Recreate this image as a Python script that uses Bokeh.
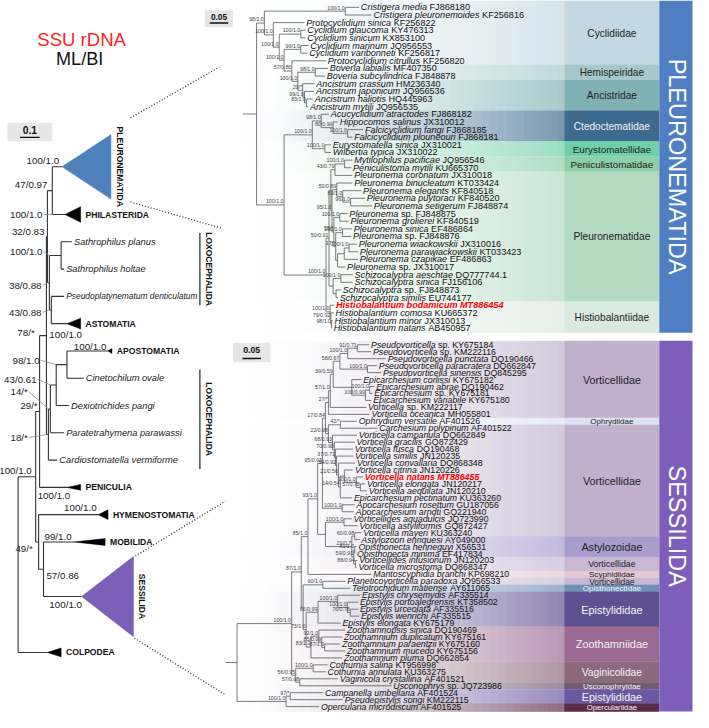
import math
from bokeh.plotting import figure
from bokeh.models import Range1d, ColumnDataSource
from bokeh.embed import file_html
from bokeh.resources import INLINE
from bokeh.core.properties import value

# ---------------------------------------------------------------- data
TITLE_LINES = ["SSU rDNA", "ML/BI"]

MAIN_TAXA = ["PLEURONEMATIDA", "PHILASTERIDA", "Sathrophilus planus", "Sathrophilus holtae",
             "Pseudoplatynematum denticulatum", "ASTOMATIA", "APOSTOMATIA", "Cinetochilum ovale",
             "Dexiotrichides pangi", "Paratetrahymena parawassi", "Cardiostomatella vermiforme",
             "PENICULIA", "HYMENOSTOMATIA", "MOBILIDA", "SESSILIDA", "COLPODEA"]
MAIN_TIP_SUPPORT = ["100/1.0", "100/1.0", "", "", "", "100/1.0", "100/1.0", "", "", "", "",
                    "100/1.0", "100/1.0", "99/1.0", "100/1.0", ""]
MAIN_NEWICK = ("((((((0:0.05,1:0.065)47/0.97:0.025,((2:0.055,3:0.015)100/1.0:0.06,"
               "(4:0.065,5:0.08)43/0.88:0.01)38/0.88:0.01)32/0.83:0.005,"
               "((((6:0.21,7:0.085)98/1.0:0.055,8:0.065)43/0.61:0.03,9:0.07)14/*:0.01,"
               "10:0.045)18/*:0.01)78/*:0.035,11:0.14)29/*:0.02,"
               "(12:0.305,(13:0.155,14:0.195)57/0.86:0.025)49/*:0.015)100/1.0:0.09,15:0.15)")
# collapsed clades: depth (subst./site)
MAIN_CLADE_DEPTH = {"PLEURONEMATIDA": 0.25, "PHILASTERIDA": 0.08, "ASTOMATIA": 0.07, "APOSTOMATIA": 0.02,
                    "PENICULIA": 0.07, "HYMENOSTOMATIA": 0.05, "MOBILIDA": 0.16, "SESSILIDA": 0.265,
                    "COLPODEA": 0.07}
LOXO_LABEL = "LOXOCEPHALIDA"
LOXO_GROUPS = [(2, 4), (7, 10)]

UPPER_ORDER = "PLEURONEMATIDA"
UPPER_TAXA = ["Cristigera media FJ868180", "Cristigera pleuronemoides KF256816",
              "Protocyclidium sinica KF256822", "Cyclidium glaucoma KY476313", "Cyclidium sinicum KX853100",
              "Cyclidium marinum JQ956553", "Cyclidium varibonneti KF256817", "Protocyclidium citrullus KF256820",
              "Boveria labialis MF407350", "Boveria subcylindrica FJ848878", "Ancistrum crassum HM236340",
              "Ancistrum japonicum JQ956536", "Ancistrum haliotis HQ445963", "Ancistrum mytili JQ956535",
              "Acucyclidium atractodes FJ868182", "Hippocomos salinus JX310012", "Falcicyclidium fangi FJ868185",
              "Falcicyclidium plouneouri FJ868181", "Eurystomatella sinica JX310021", "Wilbertia typica JX310022",
              "Mytilophilus pacificae JQ956546", "Peniculistoma mytili KU665370", "Pleuronema coronatum JX310018",
              "Pleuronema binucleatum KT033424", "Pleuronema elegants KF840518", "Pleuronema puytoraci KF840520",
              "Pleuronema setigerum FJ848874", "Pleuronema sp. FJ848875", "Pleuronema grolierei KF840519",
              "Pleuronema sinica EF486864", "Pleuronema sp. FJ848876", "Pleuronema wiackowskii JX310016",
              "Pleuronema parawiackowskii KT033423", "Pleuronema czapikae EF486863", "Pleuronema sp. JX310017",
              "Schizocalyptra aeschtae DQ777744.1", "Schizocalyptra sinica FJ156106", "Schizocalyptra sp. FJ848873",
              "Schizocalyptra similis EU744177", "Histiobalantium bodamicum MT886454",
              "Histiobalantium comosa KU665372", "Histiobalantium minor JX310013", "Histiobalantium natans AB450957"]
UPPER_HIGHLIGHT = ["Histiobalantium bodamicum MT886454"]
U_CLADE_A = ("((0:0.037,1:0.071)100/1.0:0.218,(2:0.084,((3:0.013,4:0.013)100/1.0:0.058,"
             "((5:0.021,6:0.018)99/1.0:0.045,(7:0.092,((8:0.034,9:0.026)98/1.0:0.047,"
             "(10:0.032,(11:0.026,(12:0.018,13:0.005)83/1.0:0.005)99/1.0:0.005)20/*:0.013)100/1.0:0.016)"
             "57/0.86:0.021)100/1.0:0.013)100/1.0:0.016)100/1.0:0.024)98/1.0")
U_CLADE_C = ("((14:0.021,(15:0.013,(16:0.042,17:0.013)100/1.0:0.039)80/0.99:0.032)98/1.0:0.024,"
             "(18:0.016,19:0.016)100/1.0:0.034)100/1.0")
U_CLADE_P = ("(((20:0.021,21:0.018)100/1.0:0.026,22:0.047)43/0.79:0.011,"
             "((23:0.042,(24:0.05,(25:0.039,26:0.058)96/1.0:0.021)89/1.0:0.016)50/0.89:0.013,"
             "((27:0.021,28:0.024)100/1.0:0.016,((29:0.026,30:0.024)100/1.0:0.018,"
             "(((31:0.021,32:0.024)100/1.0:0.013,33:0.037):0.018,34:0.021):0.005)17/*:0.005)55/*:0.005)"
             "95/1.0:0.003)")
U_CLADE_S = "((35:0.032,36:0.032)100/1.0:0.021,(37:0.013,38:0.005):0.008)"
U_CLADE_H = "(39:0.011,(40:0.008,(41:0.003,42:0.001)98/1.0:0.002)79/0.92:0.002)100/1.0"
UPPER_NEWICK = ("(" + U_CLADE_A + ":0.021,(" + U_CLADE_C + ":0.076,((" + U_CLADE_P + ":0.005,"
                + U_CLADE_S + ":0.011)50/0.91:0.008," + U_CLADE_H + ":0.011)100/1.0:0.113)100/1.0:0.074)")
UPPER_FAMILIES = ["Cyclidiidae", "Hemispeiridae", "Ancistridae", "Ctedoctematidae", "Eurystomatellidae",
                  "Peniculistomatidae", "Pleuronematidae", "Histiobalantiidae"]
UPPER_FAMILY_FIRST = [0, 8, 10, 14, 18, 20, 22, 39]

LOWER_ORDER = "SESSILIDA"
LOWER_TAXA = ["Pseudovorticella sp. KY675184", "Pseudovorticella sp. KM222116", "Pseudovorticella punctata DQ190466",
              "Pseudovorticella paracratera DQ662847", "Pseudovorticella sinensis DQ845295",
              "Epicarchesium corlissi KY675182", "Epicarchesium abrae DQ190462", "Epicarchesium sp. KY675181",
              "Epicarchesium variabile KY675180", "Vorticella sp. KM222117", "Vorticella oceanica MH055801",
              "Ophrydium versatile AF401526", "Carchesium polypinum AF401522", "Vorticella campanula DQ662849",
              "Vorticella gracilis GQ872429", "Vorticella fusca DQ190468", "Vorticella similis JN120235",
              "Vorticella convallaria DQ868348", "Vorticella citrina JN120226", "Vorticella natans MT886455",
              "Vorticella elongata JN120217", "Vorticella aequilata JN120210", "Epicarchesium pectinatum KU363260",
              "Apocarchesium rosettum GU187056", "Apocarchesium arndti GQ221940",
              "Vorticellides aquadulcis JQ723990", "Vorticella astyliformis GQ872427", "Vorticella mayeri KU363240",
              "Astylozoon enriquesi AY049000", "Opisthonecta henneguyi X56531", "Opisthonecta minima EF417834",
              "Vorticellides infusionum JN120203", "Vorticella microstoma DQ868347",
              "Mantoscyphidia branchi KP698210", "Planeticovorticella paradoxa JQ956533",
              "Telotrochidium matiense AY611065", "Epistylis chrysemydis AF335514",
              "Epistylis portoalegrensis KT358502", "Epistylis urceolata AF335516", "Epistylis wenrichi AF335515",
              "Epistylis elongata KY675179", "Zoothamnopsis sinica DQ190469", "Zoothamnium duplicatum KY675161",
              "Zoothamnium paraentzii KY675160", "Zoothamnium mucedo KY675156", "Zoothamnium pluma DQ662854",
              "Cothurnia salina KT956998", "Cothurnia annulata KU363275", "Vaginicola crystallina AF401521",
              "Usconophrys sp. JQ723986", "Campanella umbellaria AF401524", "Pseudepistylis songi KM222115",
              "Opercularia microdiscum AF401525"]
LOWER_HIGHLIGHT = ["Vorticella natans MT886455"]
L_PSEUDO = ("(((0:0.032,1:0.037)91/0.71:0.026,2:0.103)100/1.0:0.021,"
            "(3:0.026,4:0.037)100/1.0:0.074)58/0.67")
L_EPIC = "(5:0.026,((6:0.013,7:0.008)100/1.0:0.011,8:0.016)100/0.99:0.037)"
L_VVTAIL = "((18:0.024,(19:0.018,(20:0.013,21:0.018)57/0.78:0.011)100/1.0:0.032):0.011,22:0.032)14/0.54"
L_VV = ("(13:0.066,(14:0.055,(15:0.047,(16:0.045,(17:0.045," + L_VVTAIL
        + ":0.005)21/0.56:0.005)54/0.92:0.003)37/0.71:0.003)70/0.98:0.005)68/0.93")
L_VB = ("((25:0.021,26:0.037)100/1.0:0.05,((27:0.018,28:0.013)60/0.98:0.008,((29:0.005,30:0.001)81/1.0:0.003,"
        "(31:0.005,32:0.003)88/0.94:0.005)59/0.91:0.005)29/0.7:0.071)")
L_EPI = "((36:0.061,(37:0.029,(38:0.021,39:0.024)76/0.78:0.008)100/1.0:0.026)100/1.0:0.053,40:0.061)86/0.99"
L_ZOO = "((41:0.071,(42:0.055,(43:0.042,44:0.055)87/1.0:0.008)85/0.99:0.008)92/1.0:0.021,45:0.084)83/1.0"
L_COTH = "((46:0.039,47:0.034)100/1.0:0.047,(48:0.103,49:0.247)57/0.98:0.011)56/0.95"
L_OPER = "((50:0.089,51:0.142)97/*:0.011,52:0.089)100/1.0"
L_VA1 = ("((((" + L_PSEUDO + ":0.018," + L_EPIC + ":0.05)39/0.59:0.008,9:0.097)57/1.0:0.005,10:0.111)27/*:0.008,"
         "((11:0.045,12:0.1)42/*:0.032," + L_VV + ":0.011)22/0.98:0.008)17/0.84")
L_VORT = ("(((" + L_VA1 + ":0.008,(23:0.034,24:0.032)100/1.0:0.053)95/0.93:0.013," + L_VB
          + ":0.021)93/1.0:0.026,33:0.171)85/1.0")
L_EZ = "((34:0.061,35:0.074)90/1.0:0.053,(" + L_EPI + ":0.032," + L_ZOO + ":0.013)73/1.0:0.008)"
LOWER_NEWICK = ("(((" + L_VORT + ":0.018," + L_EZ + ":0.005)87/1.0:0.026," + L_COTH
                + ":0.011)100/1.0:0.147," + L_OPER + ":0.132)")
LOWER_FAMILIES = ["Vorticellidae", "Ophrydiidae", "Vorticellidae", "Astylozoidae", "Vorticellidae",
                  "Scyphidiidae", "Vorticellidae", "Opisthonectidae", "Epistylididae", "Zoothamniidae",
                  "Vaginicolidae", "Usconophryidae", "Epistylididae", "Operculariidae"]
LOWER_FAMILY_FIRST = [0, 11, 12, 28, 31, 33, 34, 35, 36, 41, 46, 49, 50, 52]

SCALE_MAIN = 0.1
SCALE_SUB = 0.05

# ---------------------------------------------------------------- styles
S = 693.0 / 709.0
FONT = "Liberation Sans"
BLUE = "#4f81bd"
PURPLE = "#7b5fb8"
UPPER_FAMILY_COLORS = ["#c4d8e2", "#a6c8cc", "#80b2b4", "#3d6a8e", "#6fcfa9", "#8bd0aa", "#b4dbc1", "#dbeadf"]
UPPER_LABEL_SIZES = [10.4, 10.3, 10.4, 10.3, 10.1, 10.1, 10.4, 10.4]
LOWER_FAMILY_COLORS = ["#c0b2cd", "#dde2f3", "#c0b2cd", "#a89dcd", "#c9b8d4", "#e4c9d2", "#c9b8d4",
                       "#6f8fb8", "#5e5191", "#9a6a92", "#8b6a7c", "#6e5b70", "#6a58a2", "#5b2b4b"]
LOWER_LABEL_SIZES = [11, 8.2, 11, 11, 9, 8.3, 8.6, 8.3, 11.2, 11.2, 10.5, 8.2, 11, 7.9]

W = {' ': 278, '.': 278, '/': 278, '*': 389, '-': 333}
for ch in "0123456789":
    W[ch] = 556
W.update(dict(zip("ABCDEFGHIJKLMNOPQRSTUVWXYZ",
                  [667, 667, 722, 722, 667, 611, 778, 722, 278, 500, 667, 556, 833, 722, 778, 667, 778, 722,
                   667, 611, 722, 667, 944, 667, 667, 611])))
W.update(dict(zip("abcdefghijklmnopqrstuvwxyz",
                  [556, 556, 500, 556, 556, 278, 556, 556, 222, 222, 500, 222, 833, 556, 556, 556, 556, 333,
                   500, 278, 556, 500, 722, 500, 500, 500])))


def tw(s, size):
    return sum(W.get(c, 556) for c in s) / 1000.0 * size


p = figure(width=693, height=712, x_range=Range1d(0, 709), y_range=Range1d(728, 0),
           output_backend="svg", toolbar_location=None, min_border=0,
           x_axis_location=None, y_axis_location=None)
p.grid.visible = False
p.outline_line_color = None
p.background_fill_color = "white"
p.border_fill_color = "white"


def add_text(xs, ys, texts, size, color="#111111", style="normal", align="left",
             baseline="middle", angle=0.0):
    if not texts:
        return
    src = ColumnDataSource(dict(x=list(xs), y=list(ys), text=list(texts)))
    p.text(x="x", y="y", text="text", source=src, text_font=value(FONT),
           text_font_size=value(f"{size * S:.2f}px"), text_font_style=style,
           text_color=color, text_align=align, text_baseline=baseline, angle=angle)


def hex2rgb(h):
    h = h.lstrip("#")
    return tuple(int(h[i:i + 2], 16) for i in (0, 2, 4))


def mix(c, w, t):
    a = hex2rgb(c)
    b = hex2rgb(w)
    return "#%02x%02x%02x" % tuple(int(round(a[i] * (1 - t) + b[i] * t)) for i in range(3))


# ---------------------------------------------------------------- newick
def parse_newick(s):
    s = "".join(s.split())
    pos = 0

    def node():
        nonlocal pos
        kids = []
        if s[pos] == "(":
            pos += 1
            while True:
                kids.append(node())
                if s[pos] == ",":
                    pos += 1
                    continue
                pos += 1
                break
        st = pos
        while pos < len(s) and s[pos] not in ":,);":
            pos += 1
        label = s[st:pos]
        blen = 0.0
        if pos < len(s) and s[pos] == ":":
            pos += 1
            st = pos
            while pos < len(s) and s[pos] not in ",);":
                pos += 1
            blen = float(s[st:pos])
        return {"kids": kids, "label": label, "len": blen}

    return node()


def layout(tree_str, x0, ppu, leaf_y):
    root = parse_newick(tree_str)

    def rec(n, d, px):
        n["x"] = x0 + d * ppu
        n["px"] = px
        if not n["kids"]:
            n["i"] = int(n["label"])
            n["y"] = leaf_y[n["i"]]
            n["first"] = n["last"] = n["i"]
        else:
            for k in n["kids"]:
                rec(k, d + k["len"], n["x"])
            n["y"] = (n["kids"][0]["y"] + n["kids"][-1]["y"]) / 2.0
            n["first"] = n["kids"][0]["first"]
            n["last"] = n["kids"][-1]["last"]

    rec(root, 0.0, x0)
    return root


def walk(n):
    yield n
    for k in n["kids"]:
        yield from walk(k)


def draw_edges(root, color, width, stub=None):
    a, b, c, d = [], [], [], []
    for n in walk(root):
        if n["kids"]:
            a.append(n["x"]); b.append(n["kids"][0]["y"]); c.append(n["x"]); d.append(n["kids"][-1]["y"])
            for k in n["kids"]:
                a.append(n["x"]); b.append(k["y"]); c.append(k["x"]); d.append(k["y"])
    if stub is not None:
        a.append(stub); b.append(root["y"]); c.append(root["x"]); d.append(root["y"])
    p.segment(x0=a, y0=b, x1=c, y1=d, line_color=color, line_width=width)


def split_name(name):
    parts = name.split(" ")
    if len(parts) >= 3 and parts[1] == "sp.":
        return parts[0], " ".join(parts[1:])
    return " ".join(parts[:-1]), parts[-1]


# ---------------------------------------------------------------- panels (backgrounds)
GX0, GX1, LX1, BX1 = 240.0, 577.0, 674.0, 708.0


def draw_panel(first_list, names, colors, sizes, n, y0, dy, top_pad, bot_pad, order_name, order_color):
    tops, bots = [], []
    for k, f in enumerate(first_list):
        top = y0 - top_pad if k == 0 else y0 + (f - 0.5) * dy
        bot = (y0 + (first_list[k + 1] - 0.5) * dy) if k + 1 < len(first_list) else y0 + (n - 1) * dy + bot_pad
        tops.append(top); bots.append(bot)
    L, R, T, B, C = [], [], [], [], []
    N = 40
    for k in range(len(first_list)):
        end = mix(colors[k], "#ffffff", 0.3)
        for j in range(N):
            t = ((j + 0.5) / N) ** 1.5
            xl = GX0 + (GX1 - GX0) * j / N
            xr = GX0 + (GX1 - GX0) * (j + 1) / N + 0.6
            L.append(xl); R.append(xr); T.append(tops[k]); B.append(bots[k] + 0.3)
            C.append(mix("#ffffff", end, t))
        L.append(GX1); R.append(LX1); T.append(tops[k]); B.append(bots[k] + 0.3); C.append(colors[k])
    p.quad(left=L, right=R, top=T, bottom=B, fill_color=C, line_color=None)
    p.quad(left=[LX1], right=[BX1], top=[tops[0]], bottom=[bots[-1]], fill_color=order_color, line_color=None)
    for k in range(len(first_list)):
        r, g, b = hex2rgb(colors[k])
        lum = 0.299 * r + 0.587 * g + 0.114 * b
        col = "#f4f4f4" if lum < 140 else "#222222"
        add_text([(GX1 + LX1) / 2], [(tops[k] + bots[k]) / 2 + 0.5], [names[k]], sizes[k], color=col,
                 align="center")
    add_text([(LX1 + BX1) / 2 + 1], [(tops[0] + bots[-1]) / 2], [order_name], 24, color="#ffffff",
             align="center", angle=-math.pi / 2)


U_Y0, U_DY = 7.0, 7.81
L_Y0, L_DY = 352.0, 7.115
draw_panel(UPPER_FAMILY_FIRST, UPPER_FAMILIES, UPPER_FAMILY_COLORS, UPPER_LABEL_SIZES, len(UPPER_TAXA),
           U_Y0, U_DY, 7.0, 4.7, UPPER_ORDER, "#4f7fc2")
draw_panel(LOWER_FAMILY_FIRST, LOWER_FAMILIES, LOWER_FAMILY_COLORS, LOWER_LABEL_SIZES, len(LOWER_TAXA),
           L_Y0, L_DY, 4.0, 5.0, LOWER_ORDER, "#7d5fbb")

# ---------------------------------------------------------------- subtrees
PPU_SUB = 380.0


def draw_subtree(newick, taxa, highlight, x0, stub, y0, dy, fsize):
    leaf_y = [y0 + i * dy for i in range(len(taxa))]
    root = layout(newick, x0, PPU_SUB, leaf_y)
    assert root["last"] == len(taxa) - 1
    draw_edges(root, "#5a5a5a", 0.8, stub)
    ix, iy, it, ax, ay, at, hx, hy, ht = [], [], [], [], [], [], [], [], []
    sx, sy, st = [], [], []
    for n in walk(root):
        if not n["kids"]:
            name = taxa[n["i"]]
            x = n["x"] + 1.8
            if name in highlight:
                hx.append(x); hy.append(n["y"]); ht.append(name)
            else:
                it_, acc = split_name(name)
                ix.append(x); iy.append(n["y"]); it.append(it_)
                ax.append(x + tw(it_ + " ", fsize)); ay.append(n["y"]); at.append(acc)
        elif n["label"]:
            sx.append(n["x"] - 0.6); sy.append(n["y"] - 0.6); st.append(n["label"])
    add_text(ix, iy, it, fsize, style="italic")
    add_text(ax, ay, at, fsize)
    add_text(hx, hy, ht, fsize, color="#ff0000", style="bold italic")
    add_text(sx, sy, st, 5.4, color="#444444", align="right", baseline="bottom")


draw_subtree(UPPER_NEWICK, UPPER_TAXA, UPPER_HIGHLIGHT, 262.0, 248.0, U_Y0, U_DY, 9.3)
draw_subtree(LOWER_NEWICK, LOWER_TAXA, LOWER_HIGHLIGHT, 242.0, 230.0, L_Y0, L_DY, 9.0)

# ---------------------------------------------------------------- main tree
PPU_MAIN = 200.0
MAIN_SLOT = {"PLEURONEMATIDA": 2.5, "SESSILIDA": 3.0, "COLPODEA": 1.1}
MAIN_SHAPE = {"PLEURONEMATIDA": (66, BLUE), "PHILASTERIDA": (16, "#000000"), "ASTOMATIA": (11, "#000000"),
              "APOSTOMATIA": (5, "#000000"), "PENICULIA": (6, "#000000"), "HYMENOSTOMATIA": (10, "#000000"),
              "MOBILIDA": (7, "#000000"), "SESSILIDA": (82, PURPLE), "COLPODEA": (9, "#000000")}
main_y = []
for i, name in enumerate(MAIN_TAXA):
    if i == 0:
        main_y.append(170.0)
    else:
        prev = MAIN_SLOT.get(MAIN_TAXA[i - 1], 1.0)
        main_y.append(main_y[-1] + (prev / 2 + MAIN_SLOT.get(name, 1.0) / 2) * 27.9)

main_root = layout(MAIN_NEWICK, 18.0, PPU_MAIN, main_y)
draw_edges(main_root, "#333333", 1.1)

txs, tys, tcol = [], [], []
cl_x, cl_y, cl_t, rot_x, rot_y, rot_t = [], [], [], [], [], []
sp_x, sp_y, sp_t, sp2_x, sp2_y, sp2_t = [], [], [], [], [], []
tips = {}
for n in walk(main_root):
    if not n["kids"]:
        tips[n["i"]] = n
for i, name in enumerate(MAIN_TAXA):
    n = tips[i]
    if name in MAIN_CLADE_DEPTH:
        h, col = MAIN_SHAPE[name]
        xe = n["x"] + MAIN_CLADE_DEPTH[name] * PPU_MAIN
        txs.append([n["x"], xe, xe]); tys.append([n["y"], n["y"] - h / 2, n["y"] + h / 2]); tcol.append(col)
        if h > 40:
            rot_x.append(xe + 9); rot_y.append(n["y"]); rot_t.append(name)
        else:
            cl_x.append(xe + 5); cl_y.append(n["y"]); cl_t.append(name)
    else:
        if name.startswith("Pseudoplatynematum"):
            sp2_x.append(n["x"] + 2.2); sp2_y.append(n["y"]); sp2_t.append(name)
        else:
            sp_x.append(n["x"] + 2.2); sp_y.append(n["y"]); sp_t.append(name)
p.patches(xs=txs, ys=tys, fill_color=tcol, line_color=tcol, line_width=0.5)
add_text(cl_x, cl_y, cl_t, 8.8, style="bold")
add_text(rot_x, rot_y, rot_t, 8.8, style="bold", align="center", angle=-math.pi / 2)
add_text(sp_x, sp_y, sp_t, 9.5, style="italic", color="#222222")
add_text(sp2_x, sp2_y, sp2_t, 8.6, style="italic", color="#222222")

MAIN_LABEL_POS = {
    (0, 1): (-5, -6, "right", False), (2, 3): (-19, -4, "right", True), (4, 5): (-10, 2.5, "right", True),
    (2, 5): (-8, 3, "right", True), (0, 5): (-3, -5, "right", False), (6, 7): (-28, -4.5, "right", True),
    (6, 8): (-20, -6, "right", True), (6, 9): (-23, -17.5, "right", True), (6, 10): (-21, 3, "right", True),
    (0, 10): (-12, -3, "right", False), (0, 11): (-2, -6, "right", False), (12, 14): (-6, 6.5, "right", False),
    (13, 14): (3, 6, "left", False), (0, 14): (-4, -6, "right", False),
    (0, 0): (-3, -6, "right", False), (1, 1): (-23, 0, "right", True), (5, 5): (-18, 11, "left", False),
    (6, 6): (-35, -5, "left", False), (11, 11): (-30, 8, "left", False), (12, 12): (-35, -7, "left", False),
    (13, 13): (-30, -6, "left", False), (14, 14): (-33, 8, "left", False),
}
lr_x, lr_y, lr_t, ll_x, ll_y, ll_t = [], [], [], [], [], []
ld = [[], [], [], []]
for n in walk(main_root):
    key = (n["first"], n["last"])
    lab = n["label"] if n["kids"] else MAIN_TIP_SUPPORT[n["i"]]
    if not lab or key not in MAIN_LABEL_POS:
        continue
    dx, dy, al, leader = MAIN_LABEL_POS[key]
    ax, ay = n["x"] + dx, n["y"] + dy
    if al == "right":
        lr_x.append(ax); lr_y.append(ay); lr_t.append(lab)
    else:
        ll_x.append(ax); ll_y.append(ay); ll_t.append(lab)
    if leader:
        ld[0].append(ax + 1.2); ld[1].append(ay); ld[2].append(n["px"]); ld[3].append(n["y"])
p.segment(x0=ld[0], y0=ld[1], x1=ld[2], y1=ld[3], line_color="#8a8a8a", line_width=0.8)
add_text(lr_x, lr_y, lr_t, 10, color="#222222", align="right")
add_text(ll_x, ll_y, ll_t, 10, color="#222222", align="left")

bx, by0, by1, lx, ly, lt = [], [], [], [], [], []
for a, b in LOXO_GROUPS:
    t0, t1 = main_y[a] - 9, main_y[b] + 9
    bx.append(204.0); by0.append(t0); by1.append(t1)
    lx.append(213.0); ly.append((t0 + t1) / 2); lt.append(LOXO_LABEL)
p.segment(x0=bx, y0=by0, x1=bx, y1=by1, line_color="#222222", line_width=1.2)
add_text(lx, ly, lt, 8.7, style="bold", align="center", angle=-math.pi / 2)

LINKS = [((133, 120), (224, 68)), ((133, 206), (227, 233)), ((138, 568), (230, 512)), ((137, 652), (230, 710))]
p.segment(x0=[a[0] for a, b in LINKS], y0=[a[1] for a, b in LINKS],
          x1=[b[0] for a, b in LINKS], y1=[b[1] for a, b in LINKS],
          line_color="#333333", line_width=1.3, line_dash="1 2")

SCALE_BOXES = [(7, 53, 125, 144, SCALE_MAIN, PPU_MAIN, 10.5), (209, 238, 10, 27, SCALE_SUB, PPU_SUB, 8.5),
               (238, 276, 350, 370, SCALE_SUB, PPU_SUB, 9.0)]
for l, r, t, b, sc, ppu, fsz in SCALE_BOXES:
    p.quad(left=[l], right=[r], top=[t], bottom=[b], fill_color="#e6e6e6", line_color=None)
    cx = (l + r) / 2
    half = sc * ppu / 2
    p.segment(x0=[cx - half], y0=[b - 4], x1=[cx + half], y1=[b - 4], line_color="#111111", line_width=1.4)
    add_text([cx], [t + (b - t) * 0.38], ["%g" % sc], fsz, style="bold", align="center")

add_text([83], [40], [TITLE_LINES[0]], 19, color="#ff1f1f", align="center")
add_text([81], [59.5], [TITLE_LINES[1]], 18.5, color="#111111", align="center")

open("out.html", "w").write(file_html(p, INLINE))
